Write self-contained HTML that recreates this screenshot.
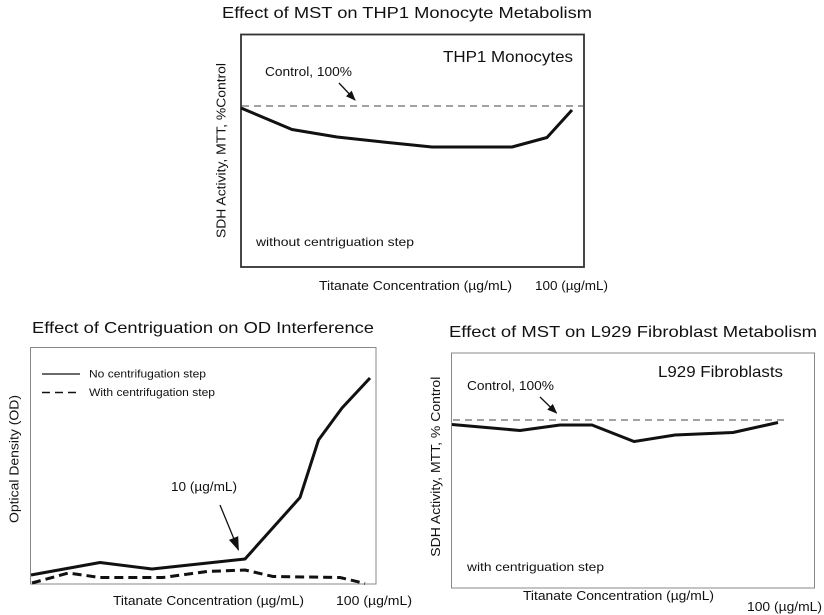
<!DOCTYPE html>
<html>
<head>
<meta charset="utf-8">
<style>
html,body{margin:0;padding:0;background:#fff;}
svg{display:block;}
text{font-family:"Liberation Sans",Arial,sans-serif;fill:#111;}
</style>
</head>
<body>
<svg width="824" height="615" viewBox="0 0 824 615" xmlns="http://www.w3.org/2000/svg">
<defs>
<marker id="ah" markerWidth="10" markerHeight="10" refX="9" refY="5" orient="auto" markerUnits="userSpaceOnUse">
<path d="M0,1 L10,5 L0,9 Z" fill="#111"/>
</marker>
<marker id="ah2" markerWidth="14" markerHeight="12" refX="13" refY="6" orient="auto" markerUnits="userSpaceOnUse">
<path d="M0,1 L14,6 L0,11 Z" fill="#111"/>
</marker>
</defs>

<!-- ===== Top chart ===== -->
<text x="222" y="18" font-size="16" textLength="370" lengthAdjust="spacingAndGlyphs">Effect of MST on THP1 Monocyte Metabolism</text>
<rect x="241" y="34.5" width="343" height="232.5" fill="none" stroke="#333" stroke-width="1.8"/>
<text x="443" y="62" font-size="16" textLength="130" lengthAdjust="spacingAndGlyphs">THP1 Monocytes</text>
<text x="265" y="76" font-size="13" textLength="87" lengthAdjust="spacingAndGlyphs">Control, 100%</text>
<line x1="339" y1="83" x2="355" y2="100" stroke="#111" stroke-width="1.3" marker-end="url(#ah)"/>
<line x1="242" y1="106" x2="583" y2="106" stroke="#444" stroke-width="1.1" stroke-dasharray="7,5"/>
<polyline points="241,108 292,129.5 337,137 383,142 432,147 512,147 547,137.5 572,110" fill="none" stroke="#111" stroke-width="3" stroke-linejoin="round"/>
<text x="256" y="246" font-size="12" textLength="158" lengthAdjust="spacingAndGlyphs">without centriguation step</text>
<text transform="translate(225.5,150.5) rotate(-90)" x="0" y="0" font-size="13" text-anchor="middle" textLength="175" lengthAdjust="spacingAndGlyphs">SDH Activity, MTT, %Control</text>
<text x="319" y="290" font-size="13" textLength="193" lengthAdjust="spacingAndGlyphs">Titanate Concentration (µg/mL)</text>
<text x="535" y="290" font-size="13" textLength="73" lengthAdjust="spacingAndGlyphs">100 (µg/mL)</text>

<!-- ===== Bottom-left chart ===== -->
<text x="32" y="333" font-size="16" textLength="342" lengthAdjust="spacingAndGlyphs">Effect of Centriguation on OD Interference</text>
<rect x="30.5" y="347.5" width="345.5" height="236.5" fill="none" stroke="#888" stroke-width="1"/>
<line x1="42" y1="374" x2="80" y2="374" stroke="#111" stroke-width="1.3"/>
<text x="89" y="377.5" font-size="11" textLength="117" lengthAdjust="spacingAndGlyphs">No centrifugation step</text>
<line x1="42" y1="392.5" x2="80" y2="392.5" stroke="#111" stroke-width="1.5" stroke-dasharray="8,5"/>
<text x="89" y="396" font-size="11" textLength="126" lengthAdjust="spacingAndGlyphs">With centrifugation step</text>
<polyline points="31,575 100,562.5 152,569 245,559 300,497.5 318.5,440 342,408 370,378" fill="none" stroke="#111" stroke-width="3" stroke-linejoin="round"/>
<polyline points="32,583 68.5,573 100,577.5 163,577.5 207,571.5 245,570 273,576.5 340,577.5 365,583.5" fill="none" stroke="#111" stroke-width="3" stroke-dasharray="9,5"/>
<text x="171" y="491" font-size="13" textLength="66" lengthAdjust="spacingAndGlyphs">10 (µg/mL)</text>
<line x1="220" y1="505" x2="238.5" y2="550" stroke="#111" stroke-width="1.3" marker-end="url(#ah2)"/>
<text transform="translate(18.5,459) rotate(-90)" x="0" y="0" font-size="13" text-anchor="middle" textLength="128" lengthAdjust="spacingAndGlyphs">Optical Density (OD)</text>
<text x="113" y="605" font-size="13" textLength="191" lengthAdjust="spacingAndGlyphs">Titanate Concentration (µg/mL)</text>
<text x="336" y="605" font-size="13" textLength="76" lengthAdjust="spacingAndGlyphs">100 (µg/mL)</text>

<!-- ===== Bottom-right chart ===== -->
<text x="449" y="337" font-size="16" textLength="368" lengthAdjust="spacingAndGlyphs">Effect of MST on L929 Fibroblast  Metabolism</text>
<rect x="451.5" y="353" width="363" height="235" fill="none" stroke="#888" stroke-width="1"/>
<text x="658" y="377" font-size="16" textLength="125" lengthAdjust="spacingAndGlyphs">L929 Fibroblasts</text>
<text x="467" y="390" font-size="13" textLength="87" lengthAdjust="spacingAndGlyphs">Control, 100%</text>
<line x1="540" y1="397" x2="556.5" y2="413" stroke="#111" stroke-width="1.3" marker-end="url(#ah)"/>
<line x1="453" y1="420" x2="786" y2="420" stroke="#444" stroke-width="1.1" stroke-dasharray="7,5"/>
<polyline points="452,424.5 520,430.5 560,425 592,425 634,441.5 675,435 733,432.5 778,422.5" fill="none" stroke="#111" stroke-width="3" stroke-linejoin="round"/>
<text x="467" y="571" font-size="12" textLength="137" lengthAdjust="spacingAndGlyphs">with centriguation step</text>
<text transform="translate(440,466.7) rotate(-90)" x="0" y="0" font-size="13" text-anchor="middle" textLength="180" lengthAdjust="spacingAndGlyphs">SDH Activity, MTT, % Control</text>
<text x="523" y="600" font-size="13" textLength="191" lengthAdjust="spacingAndGlyphs">Titanate Concentration (µg/mL)</text>
<text x="747" y="611" font-size="13" textLength="75" lengthAdjust="spacingAndGlyphs">100 (µg/mL)</text>
</svg>
</body>
</html>
